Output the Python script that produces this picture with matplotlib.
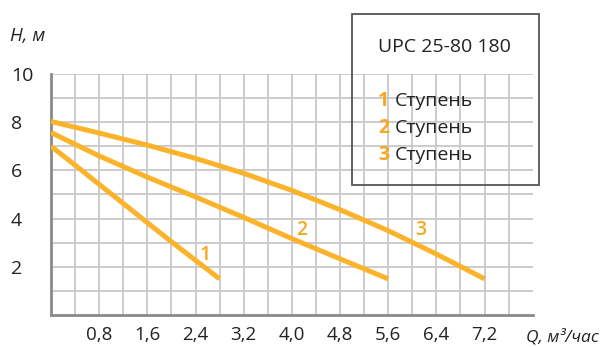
import numpy as np
import matplotlib
matplotlib.use("Agg")
import matplotlib.pyplot as plt
from matplotlib.patches import Rectangle

plt.rcParams['font.family'] = ['Open Sans', 'DejaVu Sans']

# pump curves, Q in m3/h, H in m
q1 = [0.0, 0.4, 0.8, 1.2, 1.6, 2.0, 2.4, 2.8]
h1 = [7.0, 6.22, 5.42, 4.63, 3.83, 3.04, 2.27, 1.5]
q2 = [0.0, 0.8, 1.6, 2.4, 3.2, 4.0, 4.8, 5.6]
h2 = [7.57, 6.6, 5.72, 4.9, 4.05, 3.17, 2.33, 1.5]
q3 = [0.0, 0.8, 1.6, 2.4, 3.2, 4.0, 4.8, 5.6, 6.4, 7.2]
h3 = [8.03, 7.55, 7.05, 6.5, 5.88, 5.17, 4.37, 3.5, 2.53, 1.5]

stages = ["1", "2", "3"]
label_pos = [(2.56, 2.47), (4.16, 3.51), (6.14, 3.51)]

xticks = [0.8, 1.6, 2.4, 3.2, 4.0, 4.8, 5.6, 6.4, 7.2]
xticklabels = ["0,8", "1,6", "2,4", "3,2", "4,0", "4,8", "5,6", "6,4", "7,2"]
yticks = [2, 4, 6, 8, 10]

model = "UPC 25-80 180"
stage_word = "Ступень"

orange = '#FBB32C'
lbl_orange = '#F7A823'

fig = plt.figure(figsize=(6.09, 3.47), dpi=100)
ax = fig.add_axes([51/609, 1-315/347, (532.7-51)/609, (315-74)/347])

# grid
for x in np.arange(0.4, 7.7, 0.4):
    ax.axvline(x, color='#c8c8c8', lw=1.3, zorder=1)
for y in range(1, 11):
    ax.axhline(y, color='#c8c8c8', lw=1.3, zorder=1)

for q, h in [(q1, h1), (q2, h2), (q3, h3)]:
    ax.plot(q, h, color=orange, lw=3.6, solid_capstyle='butt', zorder=3)

for s, (x, y) in zip(stages, label_pos):
    ax.text(x, y, s, color=lbl_orange, fontsize=14, fontweight='semibold',
            ha='center', va='center', zorder=4)

ax.set_xlim(0, 8.0)
ax.set_ylim(0, 10)
ax.set_xticks(xticks)
ax.set_xticklabels(xticklabels, fontsize=13.5)
ax.set_yticks(yticks)
ax.set_yticklabels([str(v) for v in yticks], fontsize=14, ha='left')
ax.tick_params(axis='x', length=0, pad=8, colors='#222222')
ax.tick_params(axis='y', length=0, pad=29, colors='#222222')

for side in ['top', 'right']:
    ax.spines[side].set_visible(False)
for side in ['left', 'bottom']:
    ax.spines[side].set_color('#8a8a8a')
    ax.spines[side].set_linewidth(2)

fig.text(10/609, 1-36/347, "H, м", fontsize=13.5, style='italic',
         color='#222222', ha='left', va='center')
fig.text(526/609, 1-337/347, "Q, м³/час", fontsize=12.5, style='italic',
         color='#222222', ha='left', va='center')

# legend box
box = Rectangle((352/609, 1-185/347), (539-352)/609, (185-14)/347,
                transform=fig.transFigure, fill=False, edgecolor='#555555',
                lw=1.3)
fig.patches.append(box)
fig.text(378/609, 1-47/347, model, fontsize=14, color='#222222',
         ha='left', va='center')
for i, s in enumerate(stages):
    yy = 1 - (101 + 27*i)/347
    fig.text(378/609, yy, s, fontsize=14, fontweight='bold',
             color=lbl_orange, ha='left', va='center')
    fig.text(395/609, yy, stage_word, fontsize=14, color='#222222',
             ha='left', va='center')

fig.savefig('out.png', dpi=100)
